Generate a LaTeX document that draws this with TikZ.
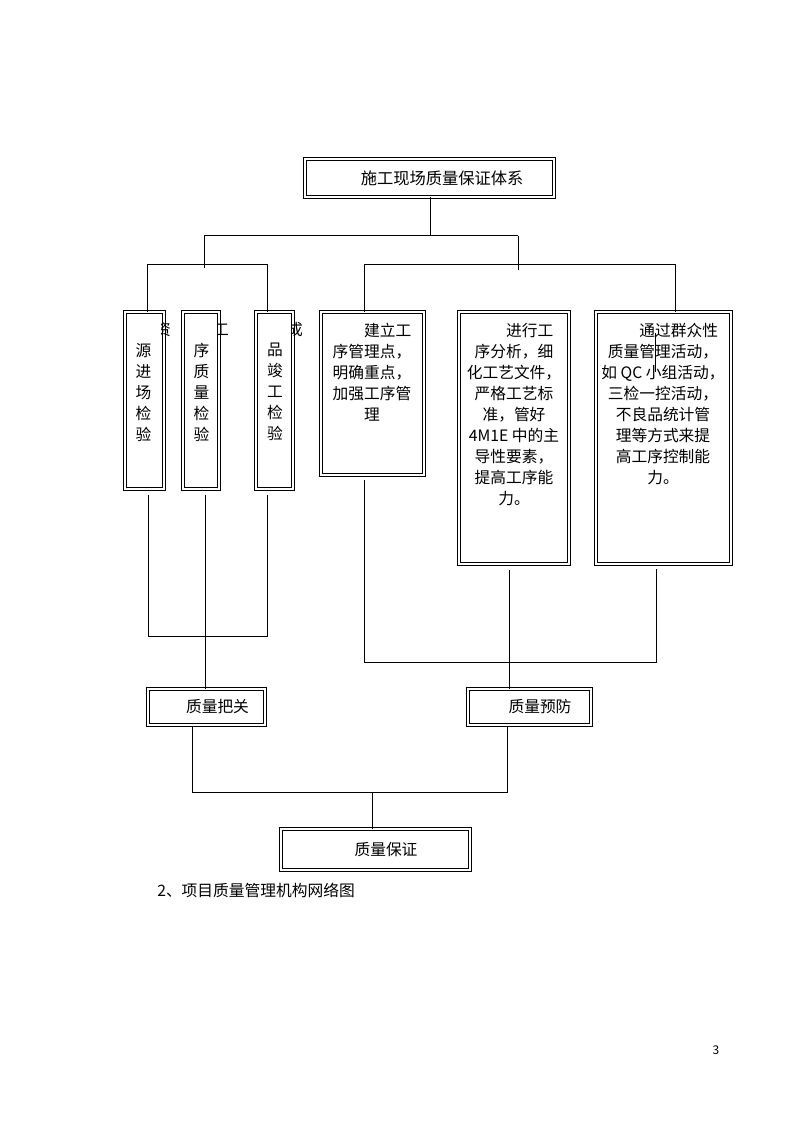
\documentclass[tikz,border=0pt]{standalone}
\usepackage{fontspec}
\setmainfont{Noto Sans CJK SC}
\begin{document}
\begin{tikzpicture}[x=0.75pt,y=-0.75pt]
\tikzset{boite/.style={draw, line width=0.75pt, double, double distance=1.5pt, fill=white, inner sep=0pt},
texte/.style={font=\fontsize{11.8pt}{15.75pt}\selectfont, align=center, inner sep=0pt},
lien/.style={line width=0.75pt}}
\useasboundingbox (0,0) rectangle (794,1123);
\node[boite, minimum width=186.75pt, minimum height=28.5pt, font=\fontsize{12.2pt}{15pt}\selectfont] (T) at (429.5,178) {\hspace*{19pt}施工现场质量保证体系};
\node[boite, minimum width=29.25pt, minimum height=132.75pt] (C1) at (144.5,400.5) {};
\node[boite, minimum width=27pt, minimum height=132.75pt] (C2) at (201,400.5) {};
\node[boite, minimum width=27.75pt, minimum height=132.75pt] (C3) at (274.5,400.5) {};
\node[boite, minimum width=77.25pt, minimum height=122.25pt] (C4) at (372.5,393.5) {};
\node[boite, minimum width=82.5pt, minimum height=189pt] (C5) at (514,438) {};
\node[boite, minimum width=101.25pt, minimum height=189pt] (C6) at (663.5,438) {};
\begin{scope}
\clip (160.5,315) rectangle (180,345) (218,315) rectangle (240,345) (291.5,315) rectangle (310,345);
\node[texte] (D1) at (163,329.5) {资};
\node[texte] (D2) at (221,329.5) {工};
\node[texte] (D3) at (295,329.5) {成};
\end{scope}
\node[texte, anchor=north] (X1) at (143.5,343) {源\\进\\场\\检\\验};
\node[texte, anchor=north] (X2) at (201.5,343) {序\\质\\量\\检\\验};
\node[texte, anchor=north] (X3) at (275,343) {品\\竣\\工\\检\\验};
\node[texte, anchor=north] (X4) at (372,323) {　　建立工\\序管理点，\\明确重点，\\加强工序管\\理};
\node[texte, anchor=north] (X5) at (514,323) {　　进行工\\序分析，细\\化工艺文件，\\严格工艺标\\准，管好\\4M1E 中的主\\导性要素，\\提高工序能\\力。};
\node[texte, anchor=north] (X6) at (663,323) {　　通过群众性\\质量管理活动，\\如 QC 小组活动，\\三检一控活动，\\不良品统计管\\理等方式来提\\高工序控制能\\力。};
\node[boite, texte, minimum width=87.75pt, minimum height=27pt] (G) at (206.5,707) {\hspace*{16.5pt}质量把关};
\node[boite, texte, minimum width=92.25pt, minimum height=27pt] (P) at (529.5,707) {\hspace*{15.75pt}质量预防};
\node[boite, texte, minimum width=141.75pt, minimum height=30.75pt] (Q) at (375.5,849.5) {\hspace*{15.75pt}质量保证};
\node[texte, anchor=west] (L) at (157,890) {2、项目质量管理机构网络图};
\node[font=\fontsize{9pt}{11pt}\selectfont, inner sep=0pt] (N) at (716,1050) {3};
\coordinate (J0) at (430,236);
\coordinate (J1) at (204,236);
\coordinate (J2) at (518,236);
\coordinate (J3) at (147,264);
\coordinate (J4) at (267,264);
\coordinate (J5) at (364,264);
\coordinate (J6) at (675,264);
\draw[lien] (T.south -| J0) -- (J0);
\draw[lien] (J1) -- (J2);
\draw[lien] (J1) -- ++(0,32);
\draw[lien] (J2) -- ++(0,34);
\draw[lien] (J3) -- (J4);
\draw[lien] (J5) -- (J6);
\draw[lien] (J3) -- (C1.north -| J3);
\draw[lien] (J4) -- (C3.north -| J4);
\draw[lien] (J5) -- (C4.north -| J5);
\draw[lien] (J6) -- (C6.north -| J6);
\draw[lien] (655,333) -- (655,372);
\coordinate (K1) at (148,636);
\coordinate (K2) at (205,636);
\coordinate (K3) at (267,636);
\coordinate (K4) at (364,662);
\coordinate (K5) at (509,662);
\coordinate (K6) at (656,662);
\draw[lien] ([yshift=-4pt]C1.south -| K1) -- (K1) -- (K3) -- ([yshift=-4pt]C3.south -| K3);
\draw[lien] ([yshift=-4pt]C2.south -| K2) -- (G.north -| K2);
\draw[lien] ([yshift=-3pt]C4.south -| K4) -- (K4) -- (K6) -- ([yshift=-3pt]C6.south -| K6);
\draw[lien] ([yshift=-4pt]C5.south -| K5) -- (P.north -| K5);
\coordinate (L1) at (192,792);
\coordinate (L0) at (372,792);
\coordinate (L2) at (507,792);
\draw[lien] (G.south -| L1) -- (L1) -- (L2) -- (P.south -| L2);
\draw[lien] (L0) -- (Q.north -| L0);
\end{tikzpicture}
\end{document}
